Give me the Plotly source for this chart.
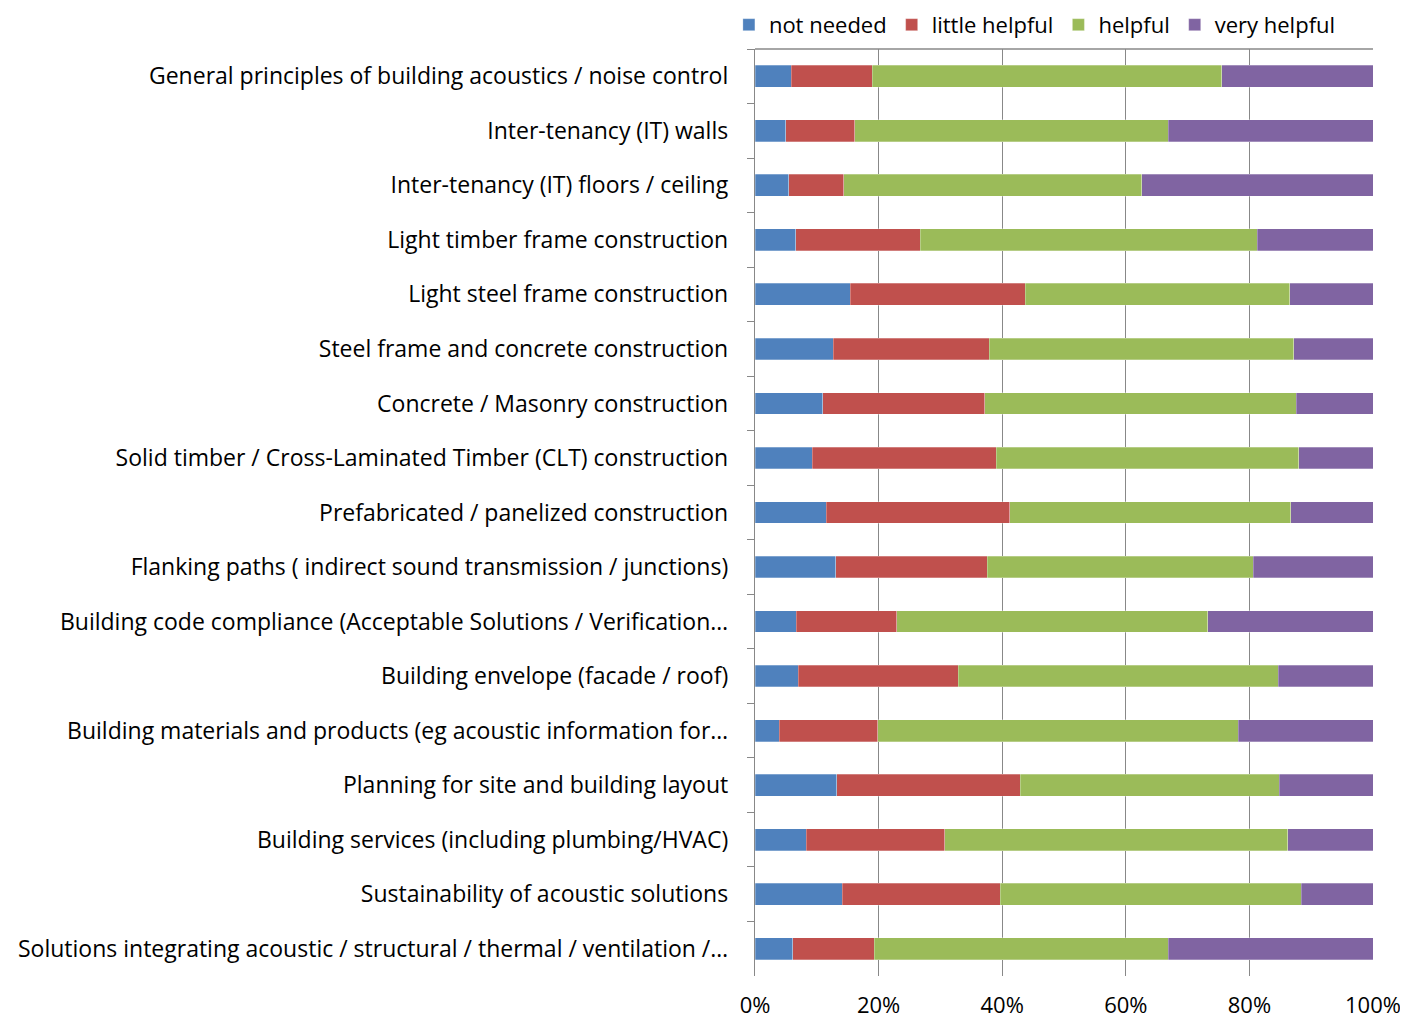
"""Stacked horizontal bar chart: perceived usefulness of guidance topics."""

import plotly.graph_objects as go

topics = [
    "General principles of building acoustics / noise control",
    "Inter-tenancy (IT) walls",
    "Inter-tenancy (IT) floors / ceiling",
    "Light timber frame construction",
    "Light steel frame construction",
    "Steel frame and concrete construction",
    "Concrete / Masonry construction",
    "Solid timber / Cross-Laminated Timber (CLT) construction",
    "Prefabricated / panelized construction",
    "Flanking paths ( indirect sound transmission / junctions)",
    "Building code compliance (Acceptable Solutions / Verification…",
    "Building envelope (facade / roof)",
    "Building materials and products (eg acoustic information for…",
    "Planning for site and building layout",
    "Building services (including plumbing/HVAC)",
    "Sustainability of acoustic solutions",
    "Solutions integrating acoustic / structural / thermal / ventilation /…",
]

# shares in percent
not_needed = [5.9, 5.0, 5.5, 6.6, 15.4, 12.7, 11.0, 9.3, 11.5, 13.1, 6.7, 7.0, 3.9, 13.2, 8.3, 14.1, 6.1]
little_helpful = [13.1, 11.1, 8.9, 20.1, 28.3, 25.2, 26.2, 29.7, 29.7, 24.5, 16.2, 25.9, 16.0, 29.7, 22.4, 25.6, 13.2]
helpful = [56.5, 50.8, 48.2, 54.6, 42.8, 49.3, 50.4, 49.0, 45.5, 43.0, 50.4, 51.8, 58.3, 41.9, 55.5, 48.7, 47.6]
very_helpful = [24.5, 33.1, 37.4, 18.7, 13.5, 12.8, 12.4, 12.0, 13.3, 19.4, 26.7, 15.3, 21.8, 15.2, 13.8, 11.6, 33.1]

pct_ticks = [0, 20, 40, 60, 80, 100]
pct_labels = ["0%", "20%", "40%", "60%", "80%", "100%"]

series = [
    ("not needed", not_needed, "#4F81BD"),
    ("little helpful", little_helpful, "#C0504D"),
    ("helpful", helpful, "#9BBB59"),
    ("very helpful", very_helpful, "#8064A2"),
]

FONT = "Open Sans"
SIZE = 23
GRID = "#888888"

# the page body adds an 8px offset, so the margins are shifted to compensate
fig = go.Figure()
for name, values, color in series:
    fig.add_trace(go.Bar(
        y=topics,
        x=values,
        name=name,
        orientation="h",
        marker={"color": color, "line": {"color": "rgba(255,255,255,0.45)", "width": 0.6}},
        hovertemplate="%{y}<br>%{x:.1f}%<extra>" + name + "</extra>",
    ))

fig.update_layout(
    barmode="stack",
    bargap=0.6,
    width=1408,
    height=1020,
    margin={"l": 747, "r": 43, "t": 41, "b": 52, "autoexpand": False},
    paper_bgcolor="white",
    plot_bgcolor="white",
    font={"family": FONT, "size": SIZE, "color": "#000000"},
    legend={
        "orientation": "h",
        "xref": "container",
        "x": 0.512,
        "xanchor": "left",
        "y": 1.026,
        "yanchor": "middle",
        "traceorder": "normal",
        "font": {"family": FONT, "size": 22},
        "itemwidth": 30,
    },
    showlegend=True,
)
fig.update_xaxes(
    range=[0, 100],
    tickvals=pct_ticks,
    ticktext=pct_labels,
    showgrid=True,
    gridcolor=GRID,
    gridwidth=1.4,
    zeroline=False,
    showline=False,
    ticks="",
    ticklabelstandoff=14,
    tickfont={"size": 22},
    fixedrange=True,
)
fig.update_yaxes(
    autorange="reversed",
    showline=True,
    linecolor=GRID,
    linewidth=1.4,
    ticks="outside",
    tickson="boundaries",
    ticklen=7,
    tickcolor=GRID,
    tickwidth=1.4,
    ticklabelstandoff=21,
    showgrid=False,
)
fig.add_shape(
    type="line", xref="paper", yref="paper",
    x0=0, x1=1, y0=1, y1=1,
    line={"color": GRID, "width": 1.4},
)

fig.write_html("out.html")
